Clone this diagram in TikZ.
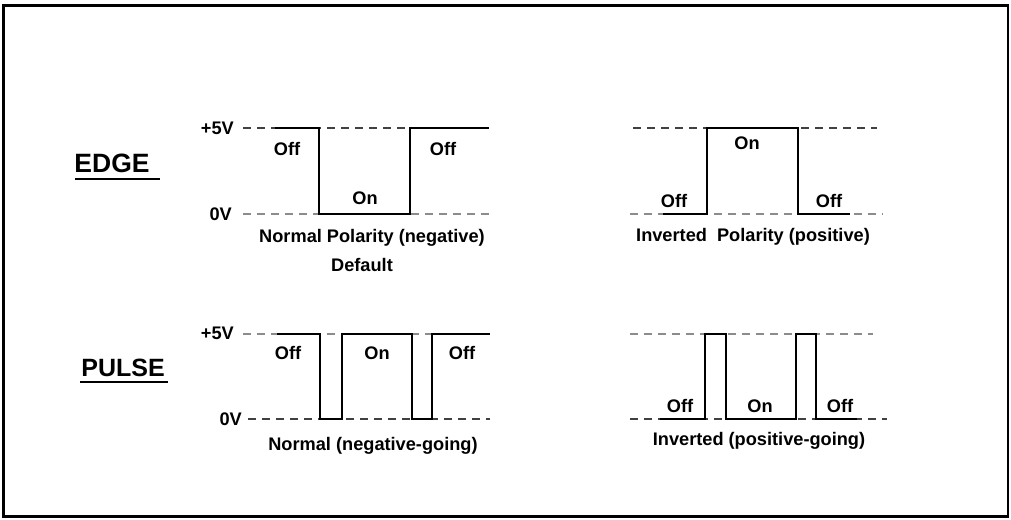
\documentclass[tikz,border=0pt]{standalone}
\usepackage{fontspec}
\setmainfont{Liberation Sans}
\begin{document}
\begin{tikzpicture}[x=1pt,y=-1pt,
  lbl/.style={font=\fontsize{18.2}{21}\selectfont\bfseries, inner sep=0pt},
  ttl/.style={font=\fontsize{25}{28}\selectfont\bfseries, inner sep=0pt},
  wave/.style={line width=1.6pt, black, line join=miter},
  dk/.style={line width=1.1pt, black!75, dash pattern=on 8pt off 6pt},
  lt/.style={line width=1.3pt, black!45, dash pattern=on 8pt off 6pt},
  uline/.style={line width=2.5pt}]
\useasboundingbox (0,0) rectangle (1011,519);
\draw[line width=2.5pt] (3.5,5.5) rectangle (1008,516.5);

% titles
\node[ttl, font=\fontsize{26.5}{29}\selectfont\bfseries] (edge) at (112,163) {EDGE};
\coordinate (eul) at (75,179); \coordinate (eur) at (160,179);
\draw[uline] (eul) -- (eur);
\node[ttl] (pulse) at (123,368) {PULSE};
\coordinate (pul) at (80,382); \coordinate (pur) at (168,382);
\draw[uline] (pul) -- (pur);

% voltage labels
\node[lbl, anchor=east] (v5a) at (234,128) {+5V};
\node[lbl, anchor=east] (v0a) at (232,214) {0V};
\node[lbl, anchor=east] (v5b) at (234,333) {+5V};
\node[lbl, anchor=east] (v0b) at (242,419) {0V};

% ---------- Edge, normal ----------
\draw[dk] (243,128) -- (489,128);
\draw[lt] (243,214) -- (489,214);
\draw[wave] (275,128) -- (319,128) -- (319,214) -- (410,214) -- (410,128) -- (489,128);
\node[lbl] (en1) at (287,149) {Off};
\node[lbl] (en2) at (365,198) {On};
\node[lbl] (en3) at (443,149) {Off};
\node[lbl] (enc) at (372,238) {Normal Polarity (negative)};
\node[lbl] (end) at (362,265) {Default};

% ---------- Edge, inverted ----------
\draw[dk] (633,128) -- (877,128);
\draw[lt] (630,214) -- (883,214);
\draw[wave] (663,214) -- (707,214) -- (707,128) -- (798,128) -- (798,214) -- (850,214);
\node[lbl] (ei1) at (674,201) {Off};
\node[lbl] (ei2) at (747,143) {On};
\node[lbl] (ei3) at (829,201) {Off};
\node[lbl] (eic) at (753,237) {Inverted\ \ Polarity (positive)};

% ---------- Pulse, normal ----------
\draw[lt] (243,334) -- (490,334);
\draw[dk] (248,419) -- (490,419);
\draw[wave] (277,334) -- (320,334) -- (320,419) -- (342,419) -- (342,334) -- (412,334) -- (412,419) -- (432,419) -- (432,334) -- (490,334);
\node[lbl] (pn1) at (288,353) {Off};
\node[lbl] (pn2) at (377,353) {On};
\node[lbl] (pn3) at (462,353) {Off};
\node[lbl] (pnc) at (373,446) {Normal (negative-going)};

% ---------- Pulse, inverted ----------
\draw[lt] (630,334) -- (873,334);
\draw[dk] (630,419) -- (887,419);
\draw[wave] (660,419) -- (705,419) -- (705,334) -- (726,334) -- (726,419) -- (796,419) -- (796,334) -- (816,334) -- (816,419) -- (857,419);
\node[lbl] (pi1) at (680,406) {Off};
\node[lbl] (pi2) at (760,406) {On};
\node[lbl] (pi3) at (840,406) {Off};
\node[lbl] (pic) at (759,441) {Inverted (positive-going)};
\end{tikzpicture}
\end{document}
